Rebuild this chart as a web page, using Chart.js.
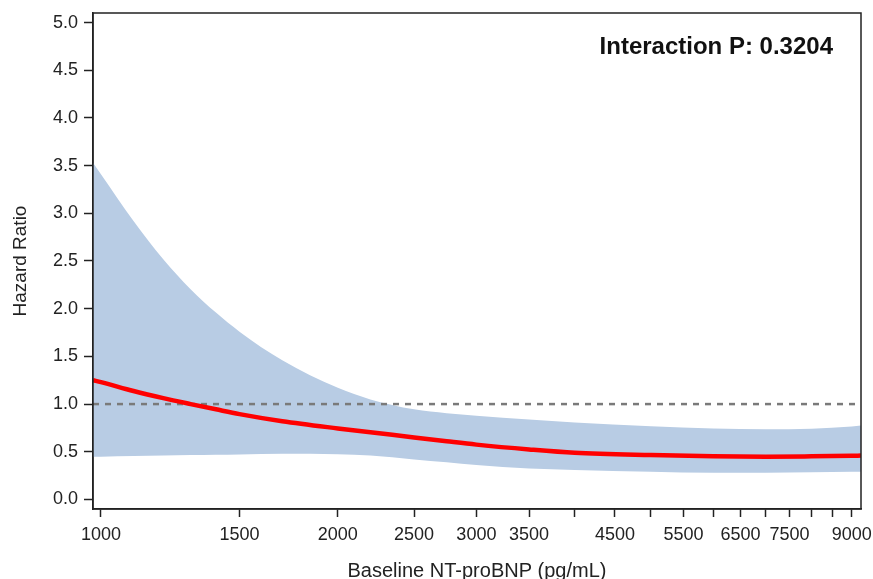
<!DOCTYPE html>
<html>
<head>
<meta charset="utf-8">
<script src="https://cdn.jsdelivr.net/npm/chart.js@4"></script>
<style>
  html, body { margin: 0; padding: 0; background: #fff; }
</style>
</head>
<body>
<canvas id="hr" width="873" height="579"></canvas>
<script>
// ── Data ──
const NTPROBNP = [977, 1000, 1100, 1200, 1300, 1400, 1500, 1700, 2000, 2200, 2500, 2750, 3000, 3500, 4000, 5000, 6000, 7000, 8000, 9000, 9245];
const HR       = [1.25, 1.23, 1.137, 1.062, 1.0, 0.945, 0.895, 0.82, 0.745, 0.705, 0.65, 0.61, 0.575, 0.525, 0.49, 0.465, 0.452, 0.448, 0.452, 0.458, 0.46];
const CI_UPPER = [3.53, 3.41, 2.92, 2.519, 2.205, 1.959, 1.759, 1.459, 1.17, 1.049, 0.945, 0.905, 0.878, 0.838, 0.808, 0.768, 0.745, 0.737, 0.742, 0.765, 0.775];
const CI_LOWER = [0.447, 0.448, 0.455, 0.46, 0.465, 0.468, 0.472, 0.48, 0.475, 0.46, 0.42, 0.39, 0.36, 0.325, 0.31, 0.29, 0.28, 0.28, 0.285, 0.29, 0.29];
const REF_X = [977, 9245];
const REF_Y = [1, 1];

const X_TICKS  = [1000, 1500, 2000, 2500, 3000, 3500, 4000, 4500, 5000, 5500, 6000, 6500, 7000, 7500, 8000, 8500, 9000];
const X_LABELS = [1000, 1500, 2000, 2500, 3000, 3500, 4500, 5500, 6500, 7500, 9000];
const Y_TICKS  = [0, 0.5, 1, 1.5, 2, 2.5, 3, 3.5, 4, 4.5, 5];
const P_TEXT = 'Interaction P: 0.3204';

const COLORS = { red: '#ff0000', band: '#b8cce4', ref: '#7a7a7a', axis: '#222222', text: '#222222' };
const FONT = 'Liberation Sans, Arial, sans-serif';

const pts = (xs, ys) => xs.map((x, i) => ({ x, y: ys[i] }));

// keep the plot box where the layout padding puts it
function noPad(s) {
    s.paddingTop = 0; s.paddingBottom = 0; s.paddingLeft = 0; s.paddingRight = 0;
}

// box round the plot + p-value note
const frame = {
    id: 'frame',
    afterDatasetsDraw(chart) {
        const { ctx, chartArea: a } = chart;
        ctx.save();
        ctx.strokeStyle = COLORS.axis;
        ctx.lineWidth = 1.5;
        ctx.strokeRect(a.left, a.top, a.right - a.left, a.bottom - a.top);
        ctx.fillStyle = '#111';
        ctx.font = 'bold 24px ' + FONT;
        ctx.textAlign = 'right';
        ctx.textBaseline = 'middle';
        ctx.fillText(P_TEXT, a.right - 28, a.top + 34);
        ctx.restore();
    }
};

new Chart(document.getElementById('hr'), {
    type: 'line',
    data: {
        datasets: [
            {
                label: 'HR', data: pts(NTPROBNP, HR),
                borderColor: COLORS.red, borderWidth: 4.5, pointRadius: 0,
                cubicInterpolationMode: 'monotone', fill: false, order: 0
            },
            {
                label: 'ref', data: pts(REF_X, REF_Y),
                borderColor: COLORS.ref, borderWidth: 2.5, borderDash: [6, 6],
                pointRadius: 0, fill: false, order: 1
            },
            {
                label: 'upper', data: pts(NTPROBNP, CI_UPPER),
                borderWidth: 0, borderColor: 'transparent', backgroundColor: COLORS.band,
                pointRadius: 0, cubicInterpolationMode: 'monotone', fill: '+1', order: 2
            },
            {
                label: 'lower', data: pts(NTPROBNP, CI_LOWER),
                borderWidth: 0, borderColor: 'transparent',
                pointRadius: 0, cubicInterpolationMode: 'monotone', fill: false, order: 3
            }
        ]
    },
    options: {
        responsive: false, animation: false,
        layout: { padding: { top: 13, right: 12, left: 0, bottom: 0 } },
        plugins: { legend: { display: false }, tooltip: { enabled: false } },
        scales: {
            x: {
                type: 'logarithmic', min: 977, max: 9245,
                afterBuildTicks: s => { s.ticks = X_TICKS.map(v => ({ value: v })); },
                afterFit: s => { s.height = 70; noPad(s); },
                grid: { drawOnChartArea: false, drawTicks: true, tickLength: 8, tickColor: COLORS.axis, tickWidth: 1.5 },
                border: { display: true, color: COLORS.axis, width: 1.5 },
                ticks: {
                    autoSkip: false, maxRotation: 0, padding: 7, color: COLORS.text,
                    font: { family: FONT, size: 18 },
                    callback: v => X_LABELS.includes(v) ? String(v) : ''
                },
                title: {
                    display: true, text: 'Baseline NT-proBNP (pg/mL)', color: COLORS.text,
                    font: { family: FONT, size: 20, lineHeight: 1 }, padding: { top: 0, bottom: -2 }
                }
            },
            y: {
                min: -0.1, max: 5.1,
                afterBuildTicks: s => { s.ticks = Y_TICKS.map(v => ({ value: v })); },
                afterFit: s => { s.width = 93; noPad(s); },
                grid: { drawOnChartArea: false, drawTicks: true, tickLength: 9, tickColor: COLORS.axis, tickWidth: 1.5 },
                border: { display: true, color: COLORS.axis, width: 1.5 },
                ticks: {
                    padding: 6, color: COLORS.text, font: { family: FONT, size: 18 },
                    callback: v => Number(v).toFixed(1)
                },
                title: {
                    display: true, text: 'Hazard Ratio', color: COLORS.text,
                    font: { family: FONT, size: 19, lineHeight: 1 }, padding: { top: 11, bottom: 0 }
                }
            }
        }
    },
    plugins: [frame]
});
</script>
</body>
</html>
